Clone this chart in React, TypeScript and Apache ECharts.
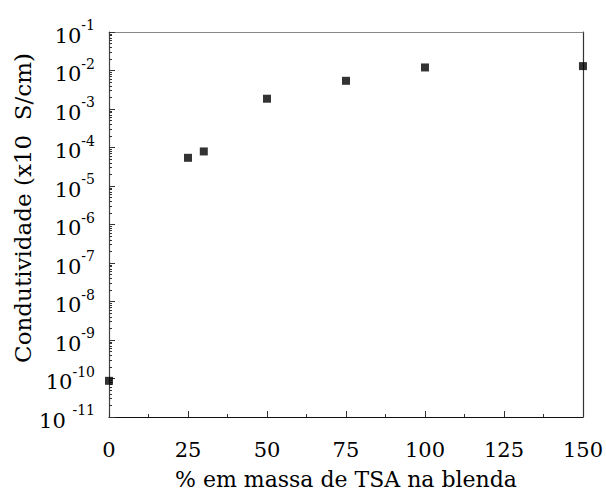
import React, { useEffect, useRef } from "react";
import * as echarts from "echarts";

const massPercent = [0, 25, 30, 50, 75, 100, 150];
const conductivity = [8.7e-11, 5.4e-5, 7.9e-5, 1.85e-3, 5.4e-3, 1.2e-2, 1.3e-2];
const xTicks = [0, 25, 50, 75, 100, 125, 150];
const yExponents = [-11, -10, -9, -8, -7, -6, -5, -4, -3, -2, -1];
const minorMultipliers = [2, 3, 4, 5, 6, 7, 8, 9];

const FONT = "DejaVu Serif";

export default function App() {
  const ref = useRef<HTMLDivElement>(null);
  useEffect(() => {
    if (!ref.current) return;
    const chart = echarts.init(ref.current, null, { renderer: "svg" });
    const decades = yExponents.map((e) => Math.pow(10, e));
    const minorVals: number[] = [];
    yExponents.slice(0, -1).forEach((e) => {
      minorMultipliers.forEach((m) => minorVals.push(m * Math.pow(10, e)));
    });
    const yMin = decades[0];
    const yMax = decades[decades.length - 1];
    chart.setOption({
      animation: false,
      backgroundColor: "#fff",
      textStyle: { fontFamily: FONT },
      grid: { left: 109, top: 32, right: 23, bottom: 71 },
      xAxis: [
        {
          type: "value",
          min: 0,
          max: 150,
          interval: 25,
          position: "bottom",
          axisLine: { show: true, lineStyle: { color: "#111", width: 1.2 } },
          axisTick: { show: true, inside: true, length: 6, lineStyle: { color: "#333" }, customValues: xTicks },
          minorTick: { show: true, splitNumber: 2, length: 3, lineStyle: { color: "#333" } },
          splitLine: { show: false },
          axisLabel: {
            margin: 22,
            fontFamily: FONT,
            fontSize: 21,
            color: "#000",
            customValues: xTicks,
          },
          name: "% em massa de TSA na blenda",
          nameLocation: "middle",
          nameGap: 51,
          nameTextStyle: { fontFamily: FONT, fontSize: 22, color: "#000" },
        },
        {
          type: "value",
          min: 0,
          max: 150,
          position: "top",
          axisLine: { show: true, onZero: false, lineStyle: { color: "#888", width: 1.2 } },
          axisTick: { show: false },
          axisLabel: { show: false },
          splitLine: { show: false },
        },
      ],
      yAxis: [
        {
          type: "log",
          logBase: 10,
          min: yMin,
          max: yMax,
          position: "left",
          axisLine: { show: true, onZero: false, lineStyle: { color: "#444", width: 1.2 } },
          axisTick: { show: true, inside: true, length: 6, lineStyle: { color: "#333" }, customValues: decades },
          splitLine: { show: false },
          axisLabel: {
            margin: 14,
            customValues: decades,
            fontFamily: FONT,
            formatter: (v: number) => {
              const e = Math.round(Math.log10(v));
              return e === -11 ? `{a|10 }{b|${e}}` : `{a|10}{b|${e}}`;
            },
            rich: {
              a: { fontFamily: FONT, fontSize: 21, color: "#000", lineHeight: 28, verticalAlign: "bottom" },
              b: { fontFamily: FONT, fontSize: 14, color: "#000", verticalAlign: "top", lineHeight: 14 },
            },
          },
        },
        {
          type: "log",
          logBase: 10,
          min: yMin,
          max: yMax,
          position: "left",
          axisLine: { show: false },
          axisTick: { show: true, inside: true, length: 3, lineStyle: { color: "#333" }, customValues: minorVals },
          axisLabel: { show: false },
          splitLine: { show: false },
        },
        {
          type: "log",
          logBase: 10,
          min: yMin,
          max: yMax,
          position: "right",
          axisLine: { show: true, onZero: false, lineStyle: { color: "#333", width: 1.2 } },
          axisTick: { show: false },
          axisLabel: { show: false },
          splitLine: { show: false },
        },
      ],
      graphic: [
        {
          type: "text",
          x: 23,
          y: 208,
          rotation: Math.PI / 2,
          style: {
            text: "Condutividade (x10  S/cm)",
            fontFamily: FONT,
            fontSize: 23,
            fill: "#000",
            align: "center",
            verticalAlign: "middle",
          },
        },
      ],
      series: [
        {
          type: "scatter",
          xAxisIndex: 0,
          yAxisIndex: 0,
          symbol: "rect",
          symbolSize: 8,
          clip: false,
          itemStyle: { color: "#000" },
          data: massPercent.map((x, i) => [x, conductivity[i]]),
          z: 10,
        },
      ],
    });
    return () => chart.dispose();
  }, []);
  return <div ref={ref} style={{ width: 606, height: 495, position: "absolute", left: 0, top: 0 }} />;
}
